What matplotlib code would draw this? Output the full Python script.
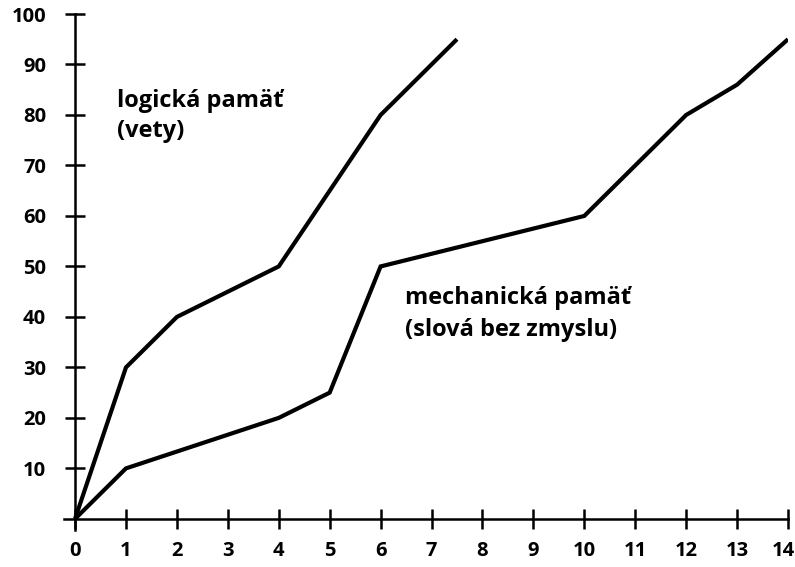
import matplotlib
matplotlib.use("Agg")
import matplotlib.pyplot as plt
import matplotlib.transforms as mtransforms

# Data
x_logic = [0, 1, 2, 4, 6, 7.5]
y_logic = [0, 30, 40, 50, 80, 95]
x_mech = [0, 1, 4, 5, 6, 10, 12, 13, 14]
y_mech = [0, 10, 20, 25, 50, 60, 80, 86, 95]
x_ticks = list(range(0, 15))
y_ticks = list(range(10, 101, 10))
label_logic = ["logická pamäť", "(vety)"]
label_mech = ["mechanická pamäť", "(slová bez zmyslu)"]

plt.rcParams['font.family'] = ['Open Sans', 'DejaVu Sans']

fig = plt.figure(figsize=(7.95, 5.67), dpi=100)
ax = fig.add_axes([0.0803, 0.0653, 0.9109, 0.910])

ax.plot(x_logic, y_logic, color='black', lw=3.0, solid_joinstyle='miter', solid_capstyle='butt')
ax.plot(x_mech, y_mech, color='black', lw=3.0, solid_joinstyle='miter', solid_capstyle='butt')

ax.set_xlim(-0.22, 14.0)
ax.set_ylim(-2.2, 100)
ax.spines['left'].set_position(('data', 0))
ax.spines['bottom'].set_position(('data', 0))
ax.spines['right'].set_visible(False)
ax.spines['top'].set_visible(False)
for s in ('left', 'bottom'):
    ax.spines[s].set_linewidth(1.8)

ax.set_xticks(x_ticks)
ax.set_xticklabels([str(v) for v in x_ticks], fontsize=14.5, fontweight='bold')
ax.set_yticks(y_ticks)
ax.set_yticklabels([str(v) for v in y_ticks], fontsize=14.5, fontweight='bold')
ax.tick_params(axis='both', direction='inout', length=14, width=1.8)
ax.tick_params(axis='y', pad=14)
ax.tick_params(axis='x', pad=9)

# nudge the last x tick label so it stays inside the figure
last = ax.get_xticklabels()[-1]
last.set_transform(last.get_transform() + mtransforms.ScaledTranslation(-5/100, 0, fig.dpi_scale_trans))

fs = 17
ax.text(0.82, 82.8, label_logic[0], fontsize=fs, fontweight='bold', va='center', ha='left')
ax.text(0.82, 76.8, label_logic[1], fontsize=fs, fontweight='bold', va='center', ha='left')
ax.text(6.48, 43.8, label_mech[0], fontsize=fs, fontweight='bold', va='center', ha='left')
ax.text(6.48, 37.4, label_mech[1], fontsize=fs, fontweight='bold', va='center', ha='left')

fig.savefig("out.png", dpi=100)
